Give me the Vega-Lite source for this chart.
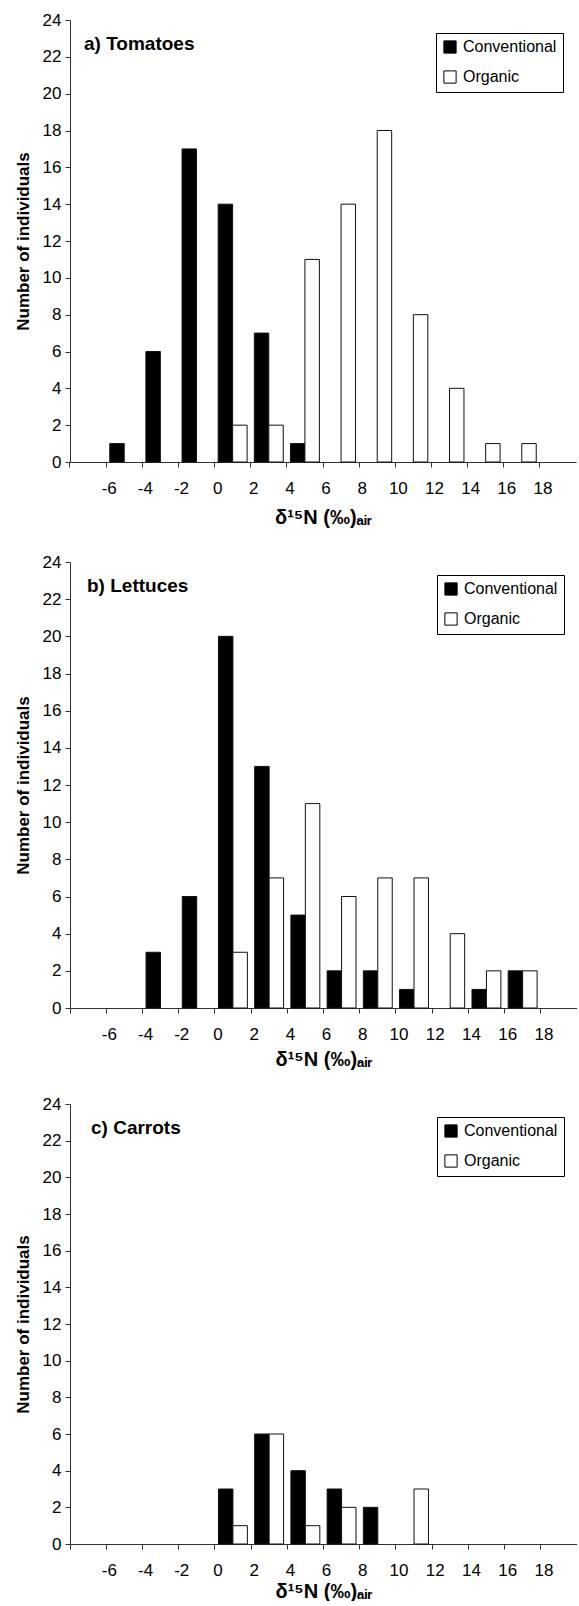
{
  "$schema": "https://vega.github.io/schema/vega-lite/v6.json",
  "padding": {"left": 14, "top": 11, "right": 0, "bottom": 0},
  "background": "white",
  "spacing": 26,
  "config": {
    "font": "Liberation Sans",
    "view": {"stroke": null},
    "axis": {"grid": false, "domainColor": "#333333", "tickColor": "#333333", "labelColor": "black", "titleColor": "black", "labelFont": "Liberation Sans", "titleFont": "Liberation Sans", "labelFontSize": 17, "titleFontSize": 17, "titleFontWeight": "bold", "tickSize": 5, "domainWidth": 1, "tickWidth": 1},
    "legend": {"strokeColor": "black", "fillColor": "white", "padding": 6, "symbolType": "square", "symbolSize": 150, "symbolStrokeColor": "black", "symbolStrokeWidth": 1, "labelFontSize": 16, "labelFont": "Liberation Sans", "labelColor": "black", "rowPadding": 12, "labelOffset": 5, "orient": "top-right", "offset": 13}
  },
  "datasets": {
    "d": [
      {"crop": "Tomatoes", "type": "Conventional", "bin": -6, "count": 1},
      {"crop": "Tomatoes", "type": "Conventional", "bin": -4, "count": 6},
      {"crop": "Tomatoes", "type": "Conventional", "bin": -2, "count": 17},
      {"crop": "Tomatoes", "type": "Conventional", "bin": 0, "count": 14},
      {"crop": "Tomatoes", "type": "Conventional", "bin": 2, "count": 7},
      {"crop": "Tomatoes", "type": "Conventional", "bin": 4, "count": 1},
      {"crop": "Tomatoes", "type": "Organic", "bin": 0, "count": 2},
      {"crop": "Tomatoes", "type": "Organic", "bin": 2, "count": 2},
      {"crop": "Tomatoes", "type": "Organic", "bin": 4, "count": 11},
      {"crop": "Tomatoes", "type": "Organic", "bin": 6, "count": 14},
      {"crop": "Tomatoes", "type": "Organic", "bin": 8, "count": 18},
      {"crop": "Tomatoes", "type": "Organic", "bin": 10, "count": 8},
      {"crop": "Tomatoes", "type": "Organic", "bin": 12, "count": 4},
      {"crop": "Tomatoes", "type": "Organic", "bin": 14, "count": 1},
      {"crop": "Tomatoes", "type": "Organic", "bin": 16, "count": 1},
      {"crop": "Lettuces", "type": "Conventional", "bin": -4, "count": 3},
      {"crop": "Lettuces", "type": "Conventional", "bin": -2, "count": 6},
      {"crop": "Lettuces", "type": "Conventional", "bin": 0, "count": 20},
      {"crop": "Lettuces", "type": "Conventional", "bin": 2, "count": 13},
      {"crop": "Lettuces", "type": "Conventional", "bin": 4, "count": 5},
      {"crop": "Lettuces", "type": "Conventional", "bin": 6, "count": 2},
      {"crop": "Lettuces", "type": "Conventional", "bin": 8, "count": 2},
      {"crop": "Lettuces", "type": "Conventional", "bin": 10, "count": 1},
      {"crop": "Lettuces", "type": "Conventional", "bin": 14, "count": 1},
      {"crop": "Lettuces", "type": "Conventional", "bin": 16, "count": 2},
      {"crop": "Lettuces", "type": "Organic", "bin": 0, "count": 3},
      {"crop": "Lettuces", "type": "Organic", "bin": 2, "count": 7},
      {"crop": "Lettuces", "type": "Organic", "bin": 4, "count": 11},
      {"crop": "Lettuces", "type": "Organic", "bin": 6, "count": 6},
      {"crop": "Lettuces", "type": "Organic", "bin": 8, "count": 7},
      {"crop": "Lettuces", "type": "Organic", "bin": 10, "count": 7},
      {"crop": "Lettuces", "type": "Organic", "bin": 12, "count": 4},
      {"crop": "Lettuces", "type": "Organic", "bin": 14, "count": 2},
      {"crop": "Lettuces", "type": "Organic", "bin": 16, "count": 2},
      {"crop": "Carrots", "type": "Conventional", "bin": 0, "count": 3},
      {"crop": "Carrots", "type": "Conventional", "bin": 2, "count": 6},
      {"crop": "Carrots", "type": "Conventional", "bin": 4, "count": 4},
      {"crop": "Carrots", "type": "Conventional", "bin": 6, "count": 3},
      {"crop": "Carrots", "type": "Conventional", "bin": 8, "count": 2},
      {"crop": "Carrots", "type": "Organic", "bin": 0, "count": 1},
      {"crop": "Carrots", "type": "Organic", "bin": 2, "count": 6},
      {"crop": "Carrots", "type": "Organic", "bin": 4, "count": 1},
      {"crop": "Carrots", "type": "Organic", "bin": 6, "count": 2},
      {"crop": "Carrots", "type": "Organic", "bin": 10, "count": 3}
    ]
  },
  "resolve": {"legend": {"fill": "independent"}},
  "vconcat": [
    {
      "width": 506, "height": 442,
      "title": {"text": "a) Tomatoes", "anchor": "start", "frame": "group", "orient": "top", "offset": -30, "dy": 28, "baseline": "alphabetic", "dx": 14, "fontSize": 19, "fontWeight": "bold", "color": "black", "font": "Liberation Sans"},
      "data": {"name": "d"},
      "transform": [{"filter": "datum.crop == 'Tomatoes'"}],
      "mark": {"type": "bar", "stroke": "#111111", "strokeWidth": 1},
      "encoding": {
        "x": {"field": "bin", "type": "ordinal", "scale": {"domain": [-8, -6, -4, -2, 0, 2, 4, 6, 8, 10, 12, 14, 16, 18], "paddingInner": 0, "paddingOuter": 0}, "axis": {"bandPosition": 0, "labelExpr": "datum.value == -8 ? '' : datum.label", "labelAngle": 0, "labelPadding": 13, "labelOffset": -15, "title": "δ¹⁵N (‰)ₐᵢᵣ", "titleFontSize": 20, "titlePadding": 11}},
        "xOffset": {"field": "type", "type": "nominal", "scale": {"domain": ["Conventional", "Organic"], "paddingInner": 0, "paddingOuter": 0.25}},
        "y": {"field": "count", "type": "quantitative", "scale": {"domain": [0, 24], "nice": false}, "axis": {"values": [0, 2, 4, 6, 8, 10, 12, 14, 16, 18, 20, 22, 24], "title": "Number of individuals", "titlePadding": 10, "labelPadding": 4}},
        "fill": {"field": "type", "type": "nominal", "scale": {"domain": ["Conventional", "Organic"], "range": ["black", "white"]}, "legend": {"title": null}}
      }
    },
    {
      "width": 507, "height": 446,
      "title": {"text": "b) Lettuces", "anchor": "start", "frame": "group", "orient": "top", "offset": -30, "dy": 28, "baseline": "alphabetic", "dx": 17, "fontSize": 19, "fontWeight": "bold", "color": "black", "font": "Liberation Sans"},
      "data": {"name": "d"},
      "transform": [{"filter": "datum.crop == 'Lettuces'"}],
      "mark": {"type": "bar", "stroke": "#111111", "strokeWidth": 1},
      "encoding": {
        "x": {"field": "bin", "type": "ordinal", "scale": {"domain": [-8, -6, -4, -2, 0, 2, 4, 6, 8, 10, 12, 14, 16, 18], "paddingInner": 0, "paddingOuter": 0}, "axis": {"bandPosition": 0, "labelExpr": "datum.value == -8 ? '' : datum.label", "labelAngle": 0, "labelPadding": 13, "labelOffset": -15, "title": "δ¹⁵N (‰)ₐᵢᵣ", "titleFontSize": 20, "titlePadding": 7}},
        "xOffset": {"field": "type", "type": "nominal", "scale": {"domain": ["Conventional", "Organic"], "paddingInner": 0, "paddingOuter": 0.25}},
        "y": {"field": "count", "type": "quantitative", "scale": {"domain": [0, 24], "nice": false}, "axis": {"values": [0, 2, 4, 6, 8, 10, 12, 14, 16, 18, 20, 22, 24], "title": "Number of individuals", "titlePadding": 10, "labelPadding": 4}},
        "fill": {"field": "type", "type": "nominal", "scale": {"domain": ["Conventional", "Organic"], "range": ["black", "white"]}, "legend": {"title": null}}
      }
    },
    {
      "width": 507, "height": 440,
      "title": {"text": "c) Carrots", "anchor": "start", "frame": "group", "orient": "top", "offset": -30, "dy": 28, "baseline": "alphabetic", "dx": 21, "fontSize": 19, "fontWeight": "bold", "color": "black", "font": "Liberation Sans"},
      "data": {"name": "d"},
      "transform": [{"filter": "datum.crop == 'Carrots'"}],
      "mark": {"type": "bar", "stroke": "#111111", "strokeWidth": 1},
      "encoding": {
        "x": {"field": "bin", "type": "ordinal", "scale": {"domain": [-8, -6, -4, -2, 0, 2, 4, 6, 8, 10, 12, 14, 16, 18], "paddingInner": 0, "paddingOuter": 0}, "axis": {"bandPosition": 0, "labelExpr": "datum.value == -8 ? '' : datum.label", "labelAngle": 0, "labelPadding": 13, "labelOffset": -15, "title": "δ¹⁵N (‰)ₐᵢᵣ", "titleFontSize": 20, "titlePadding": 3}},
        "xOffset": {"field": "type", "type": "nominal", "scale": {"domain": ["Conventional", "Organic"], "paddingInner": 0, "paddingOuter": 0.25}},
        "y": {"field": "count", "type": "quantitative", "scale": {"domain": [0, 24], "nice": false}, "axis": {"values": [0, 2, 4, 6, 8, 10, 12, 14, 16, 18, 20, 22, 24], "title": "Number of individuals", "titlePadding": 10, "labelPadding": 4}},
        "fill": {"field": "type", "type": "nominal", "scale": {"domain": ["Conventional", "Organic"], "range": ["black", "white"]}, "legend": {"title": null}}
      }
    }
  ]
}
